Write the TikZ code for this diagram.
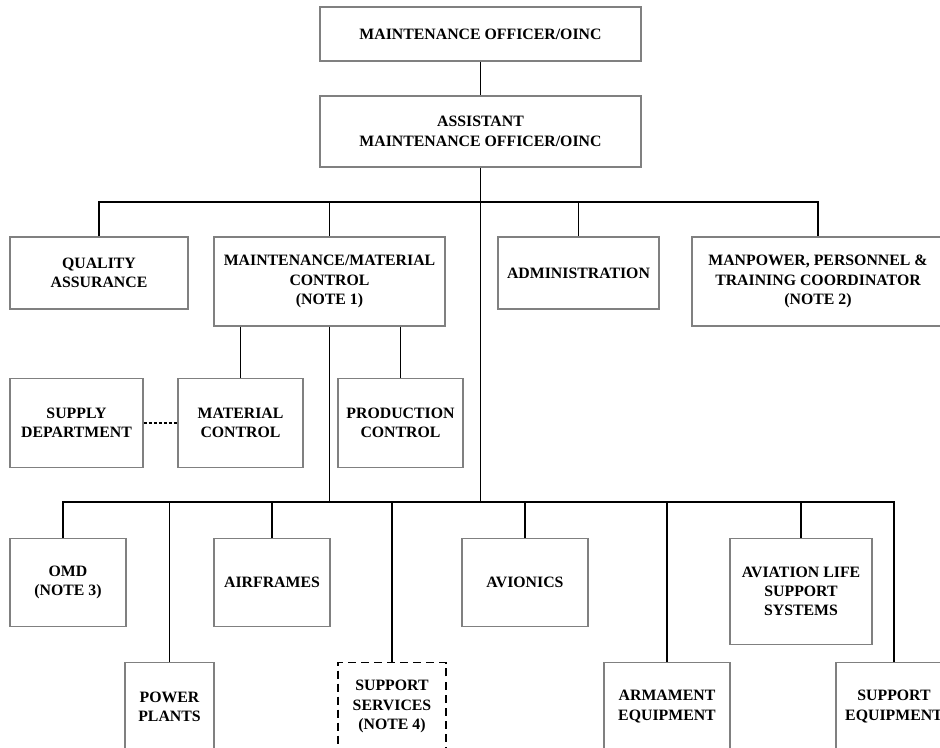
\documentclass[tikz,border=0pt]{standalone}
\usepackage{fontspec}
\setmainfont{Liberation Serif}
\tikzset{%
            base/.style = {rectangle, draw=black!50, line width=0.8pt,
                           inner sep=2pt, text centered, align=center,
                           font=\bfseries\fontsize{9}{11}\selectfont},
  box0/.style = {base, minimum width=2.32cm, minimum height=1.76cm},
  box1/.style = {base, minimum width=2.52cm, minimum height=1.76cm},
  box2/.style = {base, minimum width=2.5cm, minimum height=1.78cm},
  dbox/.style = {box0, draw=black, minimum width=2.16cm, dash pattern=on 0.16cm off 0.1cm},
  link/.style = {draw=black, line width=0.9pt},
}

\begin{document}
\begin{tikzpicture}[node distance=2.83cm]

  \useasboundingbox (-9.61,0.68) rectangle (9.19,-14.28);
  \clip (-9.61,0.68) rectangle (9.19,-14.28);

  % top of the chart
  \node (onMO)   [base, minimum width=6.42cm, minimum height=1.08cm]            {MAINTENANCE OFFICER/OINC};
  \node (onAMO)  [base, minimum width=6.42cm, minimum height=1.42cm,
                  below of=onMO,  yshift=0.88cm]                                {ASSISTANT\\ MAINTENANCE OFFICER/OINC};
  \node (onQA)   [base, minimum width=3.56cm, minimum height=1.44cm,
                  below of=onAMO, xshift=-7.63cm]                               {QUALITY\\ ASSURANCE};
  \node (onMMC)  [base, minimum width=4.62cm, minimum height=1.78cm,
                  below of=onAMO, xshift=-3.02cm, yshift=-0.17cm]               {MAINTENANCE/MATERIAL\\ CONTROL\\ (NOTE 1)};
  \node (onADM)  [base, minimum width=3.22cm, minimum height=1.44cm,
                  below of=onAMO, xshift= 1.96cm]                               {ADMINISTRATION};
  \node (onMPT)  [base, minimum width=5.04cm, minimum height=1.78cm,
                  below of=onAMO, xshift= 6.75cm, yshift=-0.17cm]               {MANPOWER, PERSONNEL \&\\ TRAINING COORDINATOR\\ (NOTE 2)};

  % under maintenance/material control
  \node (onMC)   [box2, below of=onMMC, xshift=-1.78cm]                         {MATERIAL\\ CONTROL};
  \node (onPC)   [box2, below of=onMMC, xshift= 1.42cm]                         {PRODUCTION\\ CONTROL};
  \node (onSUP)  [box2, minimum width=2.66cm, left of=onMC, xshift=-0.45cm]     {SUPPLY\\ DEPARTMENT};

  % work centers
  \node (onOMD)  [box0, below of=onSUP, xshift=-0.17cm, yshift=-0.36cm]         {OMD\\ (NOTE 3)};
  \node (onAF)   [box0, below of=onMC,  xshift= 0.63cm, yshift=-0.36cm]         {AIRFRAMES};
  \node (onAV)   [box1, below of=onPC,  xshift= 2.49cm, yshift=-0.36cm]         {AVIONICS};
  \node (onALSS) [base, minimum width=2.84cm, minimum height=2.12cm,
                  right of=onAV, xshift=2.69cm, yshift=-0.18cm]                 {AVIATION LIFE\\ SUPPORT\\ SYSTEMS};
  \node (onPP)   [box0, minimum width=1.78cm, below of=onOMD, xshift=2.03cm, yshift=0.35cm] {POWER\\ PLANTS};
  \node (onSS)   [dbox, below of=onAF,  xshift= 2.40cm, yshift=0.35cm]          {SUPPORT\\ SERVICES\\ (NOTE 4)};
  \node (onARM)  [box1, below of=onAV,  xshift= 2.84cm, yshift=0.35cm]          {ARMAMENT\\ EQUIPMENT};
  \node (onSE)   [box0, right of=onARM, xshift= 1.71cm]                         {SUPPORT\\ EQUIPMENT};

  \coordinate (upbus)  at ([yshift=-0.69cm]onAMO.south);
  \coordinate (lowbus) at ([yshift=-9.36cm]onMO.center);

  \draw[link] (onMO)   -- (onAMO);
  \draw[link] (onAMO)  -- (lowbus);
  \draw[link] (onQA)   |- (upbus) -| (onMPT);
  \draw[link] (upbus -| onMMC) -- (onMMC);
  \draw[link] (upbus -| onADM) -- (onADM);
  \draw[link] (onMMC.south -| onMC) -- (onMC);
  \draw[link] (onMMC.south -| onPC) -- (onPC);
  \draw[link, dash pattern=on 0.06cm off 0.04cm] (onSUP) -- (onMC);
  \draw[link] (onMMC)  -- (onMMC |- lowbus);
  \draw[link] ([xshift=-0.1cm]onOMD.north) |- (lowbus) -| (onSE);
  \draw[link] (lowbus -| onPP)   -- (onPP);
  \draw[link] (lowbus -| onAF)   -- (onAF);
  \draw[link] (lowbus -| onSS)   -- (onSS);
  \draw[link] (lowbus -| onAV)   -- (onAV);
  \draw[link] (lowbus -| onARM)  -- (onARM);
  \draw[link] (lowbus -| onALSS) -- (onALSS);
  \end{tikzpicture}
\end{document}
